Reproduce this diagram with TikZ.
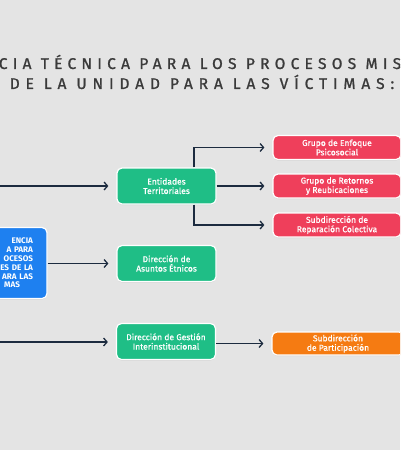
\documentclass[tikz,border=0pt]{standalone}
\usepackage{fontspec}
\setmainfont{Fira Sans}
\newfontfamily\titlefont[LetterSpace=38, FakeBold=1.2]{Fira Sans}
\newfontfamily\titlefontwide[LetterSpace=34, FakeBold=1.2]{Fira Sans}
\newfontfamily\boxfont[FakeBold=0.8]{Fira Sans}
\usetikzlibrary{arrows.meta,shadows}
\definecolor{bgcol}{HTML}{E4E4E4}
\definecolor{titlecol}{HTML}{3A3A3A}
\definecolor{linecol}{HTML}{1C2B3F}
\definecolor{greencol}{HTML}{1FBE86}
\definecolor{redcol}{HTML}{EF3F5B}
\definecolor{orangecol}{HTML}{F57B12}
\definecolor{bluecol}{HTML}{1E80F0}

\begin{document}
\begin{tikzpicture}[x=1pt, y=-1pt,
    box/.style={draw=white, line width=1.2pt, rounded corners=5pt, text=white,
      font=\boxfont\fontsize{8.5}{9.4}\selectfont, align=center, inner sep=0pt,
      drop shadow={opacity=0.18, shadow xshift=0pt, shadow yshift=-1pt}},
    greenbox/.style={box, fill=greencol, minimum width=99pt, minimum height=36pt},
    redbox/.style={box, fill=redcol, minimum width=128pt, minimum height=24pt},
    link/.style={draw=linecol, line width=1.3pt, shorten >=8pt,
      -{Straight Barb[length=3.5pt, width=8pt]}}]
        % Canvas
        \useasboundingbox (0,0) rectangle (400,450);
        \clip (0,0) rectangle (400,450);
        \fill[bgcol] (0,0) rectangle (400,450);
        % Title
        \node[font=\titlefontwide\fontsize{15.5}{18}\selectfont, text=titlecol]
          (title1) at (200,62) {CIA TÉCNICA PARA LOS PROCESOS MIS};
        \node[font=\titlefont\fontsize{15.5}{18}\selectfont, text=titlecol] (title2)
          at (202,82) {DE LA UNIDAD PARA LAS VÍCTIMAS:};
        % Main box
        \node[box, fill=bluecol, minimum width=110pt, minimum height=71pt,
          text width=82pt, inner xsep=14pt, align=right,
          font=\bfseries\fontsize{8.1}{8.8}\selectfont] (gerencia) at (-8,263)
          {ENCIA\hspace*{5pt}\\A PARA\hspace*{4pt}\\OCESOS\hspace*{6pt}\\ES DE LA\\
           ARA LAS\hspace*{3pt}\\MAS\hspace*{13pt}};
        % Green boxes
        \node[greenbox] (entidades) at (166.5,186) {Entidades\\Territoriales};
        \node[greenbox] (etnicos) at (166.5,263.5) {Dirección de\\Asuntos Étnicos};
        \node[greenbox] (gestion) at (166,341.5)
          {Dirección de Gestión\\Interinstitucional};
        % Red and orange boxes
        \node[redbox] (enfoque) at (337,147.5) {Grupo de Enfoque\\Psicosocial};
        \node[redbox] (retornos) at (337,186) {Grupo de Retornos\\y Reubicaciones};
        \node[redbox] (reparacion) at (337,225)
          {Subdirección de\\Reparación Colectiva};
        \node[box, fill=orangecol, minimum width=132pt, minimum height=23pt]
          (participacion) at (338,343.5) {Subdirección\\de Participación};
        % Arrows
        \coordinate (in1) at (-5,186);
        \coordinate (in3) at (-5,342);
        \draw[link] (in1) -- (entidades.west);
        \draw[link] (gerencia.east |- etnicos.west) -- (etnicos.west);
        \draw[link] (in3) -- (in3 -| gestion.west);
        \draw[link] ([xshift=27.5pt]entidades.north) |- (enfoque.west);
        \draw[link] (entidades.east) -- (retornos.west);
        \draw[link] ([xshift=27.5pt]entidades.south) |- (reparacion.west);
        \draw[link] (gestion.east |- participacion.west) -- (participacion.west);
\end{tikzpicture}
\end{document}
